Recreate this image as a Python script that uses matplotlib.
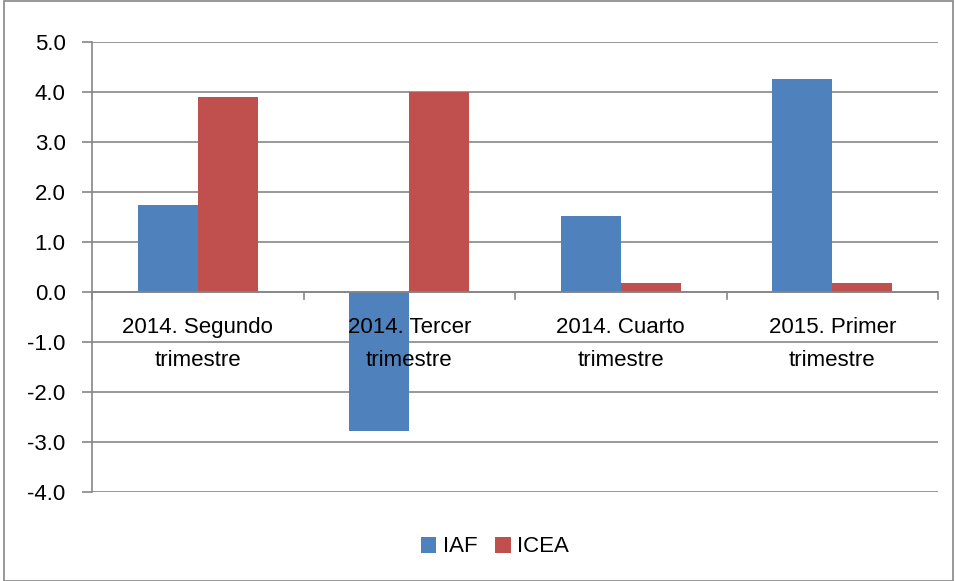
import numpy as np
import matplotlib.pyplot as plt
from matplotlib.patches import Rectangle

# Datos
categorias = ['2014. Segundo\ntrimestre', '2014. Tercer\ntrimestre',
              '2014. Cuarto\ntrimestre', '2015. Primer\ntrimestre']
iaf = [1.74, -2.77, 1.52, 4.27]
icea = [3.90, 4.00, 0.19, 0.19]

plt.rcParams['font.family'] = ['Liberation Sans', 'DejaVu Sans']
fs = 16

fig = plt.figure(figsize=(9.55, 5.81), dpi=100)
ax = fig.add_axes([92/955, 1 - 492/581, (938 - 92)/955, (492 - 42)/581])

x = np.arange(len(categorias))
w = 0.284
ax.bar(x - w/2, iaf, w, color='#4F81BD', label='IAF', zorder=3)
ax.bar(x + w/2, icea, w, color='#C0504D', label='ICEA', zorder=3)

ax.set_xlim(-0.5, len(categorias) - 0.5)
ax.set_ylim(-4, 5)
ax.set_yticks(np.arange(-4, 6, 1))
ax.set_yticklabels(['%.1f' % v for v in np.arange(-4, 6, 1)], fontsize=fs)
ax.yaxis.grid(True, color='#868686', linewidth=1.2, zorder=0)
ax.tick_params(axis='y', length=7, width=1.2, color='#868686', pad=12)

for s in ['top', 'right', 'bottom']:
    ax.spines[s].set_visible(False)
ax.spines['left'].set_color('#868686')
ax.spines['left'].set_linewidth(1.2)

# eje de categorias en cero
ax.axhline(0, color='#868686', linewidth=1.2, zorder=4)
ax.set_xticks([])
for b in np.arange(-0.5, len(categorias), 1):
    ax.plot([b, b], [0, -0.13], color='#868686', linewidth=1.2, zorder=4, clip_on=False)
for i, c in enumerate(categorias):
    ax.text(i, -0.5, c, ha='center', va='top', fontsize=fs, linespacing=1.72, zorder=5)

ax.legend(loc='center', bbox_to_anchor=(495/955, 1 - 547/581), bbox_transform=fig.transFigure,
          ncol=2, frameon=False, fontsize=fs, handlelength=0.7, handleheight=0.7,
          handletextpad=0.3, columnspacing=0.8)

fig.patches.append(Rectangle((4/955, 0), 1 - 6/955, 1 - 1/581, transform=fig.transFigure,
                             fill=False, edgecolor='#868686', linewidth=1.2))

fig.savefig('out.png', dpi=100)
